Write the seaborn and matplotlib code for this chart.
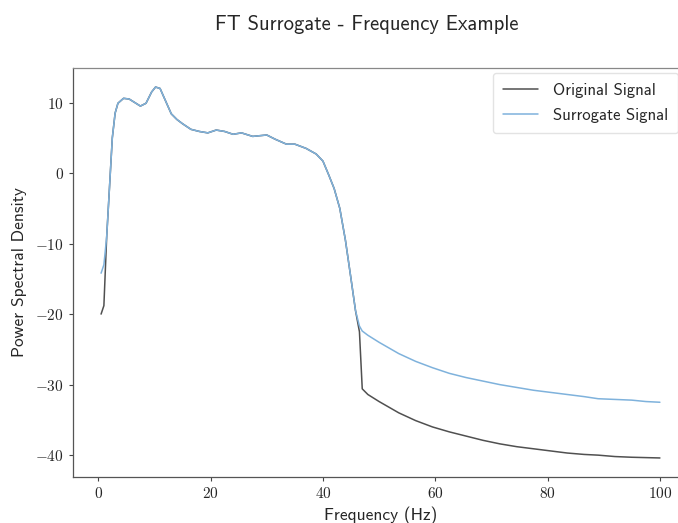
import numpy as np
import pandas as pd
import matplotlib
matplotlib.use("Agg")
import matplotlib.pyplot as plt
from matplotlib.ticker import FuncFormatter
import seaborn as sns

freqs = [0.5, 1.0, 1.5, 2.0, 2.5, 3.0, 3.5, 4.5, 5.5, 6.5, 7.5, 8.5, 9.5, 10.2, 11, 12, 13, 14, 15,
         16.5, 18, 19.5, 21, 22.5, 24, 25.5, 27.5, 30, 31.5, 33.5, 35, 37, 38.8, 40, 41, 42, 43, 44,
         45, 45.8, 46.5, 47, 48, 50, 53.5, 56.5, 59.5, 62.5, 65.5, 68.5, 71.5, 74.5, 77.5, 80.5,
         83.5, 86.5, 89, 92, 95, 97.5, 100]

original = [-20.0, -18.8, -9.0, -2.0, 5.0, 8.5, 9.9, 10.6, 10.5, 10.0, 9.5, 9.9, 11.5, 12.2, 12.0,
            10.2, 8.4, 7.6, 7.0, 6.2, 5.9, 5.7, 6.1, 5.9, 5.5, 5.7, 5.2, 5.4, 4.8, 4.1, 4.1, 3.5,
            2.7, 1.7, -0.2, -2.2, -5.0, -9.5, -15.0, -19.5, -22.5, -30.6, -31.4, -32.4, -34.0,
            -35.1, -36.0, -36.7, -37.3, -37.9, -38.4, -38.8, -39.1, -39.4, -39.7, -39.9, -40.0,
            -40.2, -40.3, -40.35, -40.4]

surrogate = [-14.2, -13.0, -9.0, -2.0, 5.0, 8.5, 9.9, 10.6, 10.5, 10.0, 9.5, 9.9, 11.5, 12.2, 12.0,
             10.2, 8.4, 7.6, 7.0, 6.2, 5.9, 5.7, 6.1, 5.9, 5.5, 5.7, 5.2, 5.4, 4.8, 4.1, 4.1, 3.5,
             2.7, 1.7, -0.2, -2.2, -5.0, -9.5, -15.0, -19.5, -21.7, -22.4, -23.0, -24.0, -25.6,
             -26.7, -27.6, -28.4, -29.0, -29.5, -30.0, -30.4, -30.8, -31.1, -31.4, -31.7, -32.0,
             -32.1, -32.2, -32.4, -32.5]

series_names = ["Original Signal", "Surrogate Signal"]
colors = ["#505050", "#7fb2dc"]

df = pd.concat([
    pd.DataFrame({"Frequency": freqs, "PSD": original, "Signal": series_names[0]}),
    pd.DataFrame({"Frequency": freqs, "PSD": surrogate, "Signal": series_names[1]}),
])

sns.set_style("white")
plt.rcParams["font.family"] = ["cmss10", "DejaVu Sans"]
plt.rcParams["mathtext.fontset"] = "cm"
plt.rcParams["axes.unicode_minus"] = True
plt.rcParams["savefig.bbox"] = None

W, H = 678, 523
fig = plt.figure(figsize=(W / 100, H / 100), dpi=100)
left_px, right_px, top_px, bottom_px = 73, 688, 68, 477
ax = fig.add_axes([left_px / W, 1 - bottom_px / H, (right_px - left_px) / W, (bottom_px - top_px) / H])

sns.lineplot(data=df, x="Frequency", y="PSD", hue="Signal", palette=colors, ax=ax,
             linewidth=1.1, legend=True)

ax.set_xlim(-4.5, 105)
ax.set_ylim(-43.1, 14.9)
ax.set_xticks([0, 20, 40, 60, 80, 100])
ax.set_yticks([-40, -30, -20, -10, 0, 10])
fmt = FuncFormatter(lambda v, p: r"$%d$" % v)
ax.xaxis.set_major_formatter(fmt)
ax.yaxis.set_major_formatter(fmt)
ax.tick_params(axis="both", labelsize=11, length=3, color="#444444", direction="out",
               left=True, bottom=True)
for s in ax.spines.values():
    s.set_color("#555555")
    s.set_linewidth(0.9)
ax.spines["top"].set_color("#888888")
ax.spines["right"].set_visible(False)

ax.set_xlabel("Frequency (Hz)", fontsize=12.5, labelpad=4)
ax.set_ylabel("Power Spectral Density", fontsize=12.5, labelpad=6)
fig.text(367 / W, 1 - 25 / H, "FT Surrogate - Frequency Example", fontsize=14.8,
         ha="center", va="center")

leg = ax.legend(loc="upper left", bbox_to_anchor=(493 / W, 1 - 73 / H),
                bbox_transform=fig.transFigure, borderaxespad=0,
                fontsize=12.0, frameon=True, handlelength=2.1, handletextpad=0.9,
                borderpad=0.6, labelspacing=0.6)
leg.set_title(None)
leg.get_frame().set_edgecolor("#dddddd")

fig.savefig("out.png", dpi=100, bbox_inches=None)
